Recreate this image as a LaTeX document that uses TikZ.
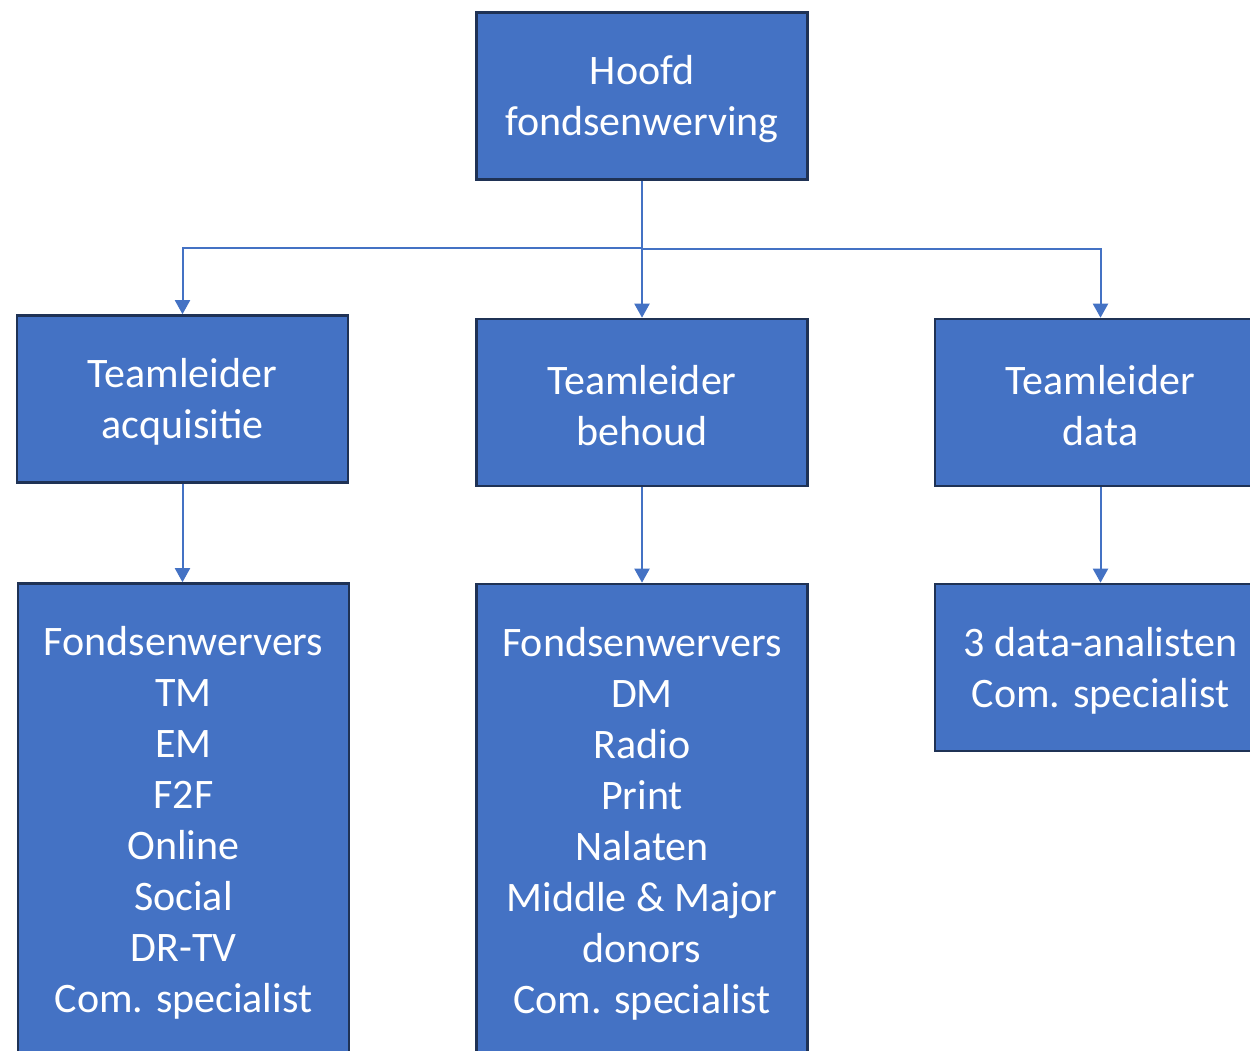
\documentclass[tikz,border=0pt]{standalone}
\usepackage{fontspec}
\setmainfont{Carlito}
\usetikzlibrary{arrows.meta}
\definecolor{boxfill}{HTML}{4472C4}
\definecolor{boxline}{HTML}{1F3255}
\definecolor{connline}{HTML}{4472C4}
\begin{document}
\begin{tikzpicture}[x=1pt,y=-1pt,
  orgbox/.style={draw=boxline, line width=2.6pt, fill=boxfill, inner sep=0pt,
    minimum width=331pt, minimum height=167pt, anchor=center},
  boxtext/.style={text=white, font=\fontsize{42}{51}\selectfont, align=center,
    inner sep=0pt, anchor=center, yshift=-3pt},
  conn/.style={draw=connline, line width=2pt, -{Triangle[width=15pt,length=14pt]}}]
\useasboundingbox (0,0) rectangle (1250,1050);
\node[orgbox] (top) at (642,96) {};
\node[orgbox] (acq) at (182.5,399) {};
\node[orgbox] (beh) at (642,402.5) {};
\node[orgbox] (dat) at (1100.5,402.5) {};
\node[orgbox, minimum height=473pt] (lacq) at (183.5,820) {};
\node[orgbox, minimum height=473pt] (lbeh) at (642,820.5) {};
\node[orgbox] (ldat) at (1100.5,667.5) {};
\node[boxtext] (ttop) at (top.center) {Hoofd\\fondsenwerving};
\node[boxtext] (tacq) at (acq.center) {Teamleider\\acquisitie};
\node[boxtext] (tbeh) at (beh.center) {Teamleider\\behoud};
\node[boxtext] (tdat) at (dat.center) {Teamleider\\data};
\node[boxtext] (tlacq) at (lacq.center) {Fondsenwervers\\TM\\EM\\F2F\\Online\\Social\\DR-TV\\Com. specialist};
\node[boxtext] (tlbeh) at (lbeh.center) {Fondsenwervers\\DM\\Radio\\Print\\Nalaten\\Middle \& Major\\donors\\Com. specialist};
\node[boxtext] (tldat) at (ldat.center) {3 data-analisten\\Com. specialist};
\draw[conn] (top.south) -- (beh.north);
\draw[conn] (top.south) -- ++(0,67) -| (acq.north);
\draw[conn] (top.south) -- ++(0,68) -| (dat.north);
\draw[conn] (acq.south) -- (lacq.north -| acq.south);
\draw[conn] (beh.south) -- (lbeh.north);
\draw[conn] (dat.south) -- (ldat.north);
\end{tikzpicture}
\end{document}
